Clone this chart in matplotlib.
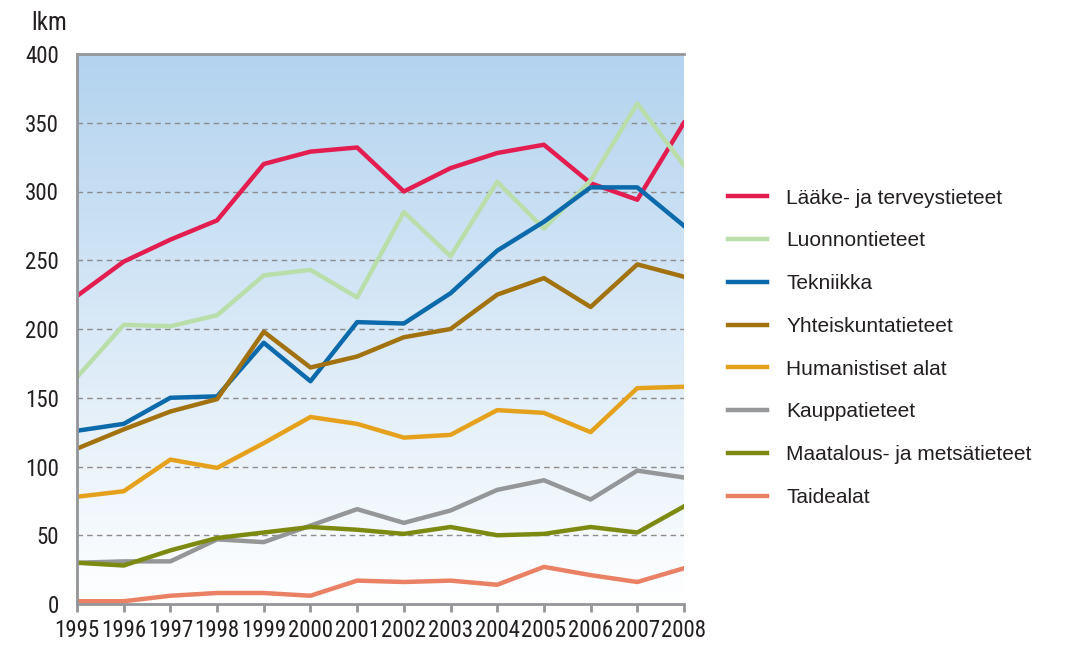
import numpy as np
import matplotlib
matplotlib.use("Agg")
import matplotlib.pyplot as plt
from matplotlib import font_manager
from matplotlib.colors import LinearSegmentedColormap

years = list(range(1995, 2009))

series_names = [
    "Lääke- ja terveystieteet",
    "Luonnontieteet",
    "Tekniikka",
    "Yhteiskuntatieteet",
    "Humanistiset alat",
    "Kauppatieteet",
    "Maatalous- ja metsätieteet",
    "Taidealat",
]

laake = [224, 249, 265, 279, 320, 329, 332, 300, 317, 328, 334, 306, 294, 350]
luonnon = [165, 203, 202, 210, 239, 243, 223, 285, 253, 307, 273, 308, 364, 319]
tekniikka = [126, 131, 150, 151, 190, 162, 205, 204, 226, 257, 278, 303, 303, 275]
yhteiskunta = [113, 127, 140, 149, 198, 172, 180, 194, 200, 225, 237, 216, 247, 238]
humanistiset = [78, 82, 105, 99, 117, 136, 131, 121, 123, 141, 139, 125, 157, 158]
kauppa = [30, 31, 31, 47, 45, 57, 69, 59, 68, 83, 90, 76, 97, 92]
maatalous = [30, 28, 39, 48, 52, 56, 54, 51, 56, 50, 51, 56, 52, 71]
taide = [2, 2, 6, 8, 8, 6, 17, 16, 17, 14, 27, 21, 16, 26]

series_values = [laake, luonnon, tekniikka, yhteiskunta, humanistiset, kauppa, maatalous, taide]
colors = ["#e31d50", "#badeaa", "#0b6aac", "#a2720f", "#e6a11c", "#949698", "#7d8a12", "#ea8064"]

# pick a condensed face if one is installed
installed = {f.name for f in font_manager.fontManager.ttflist}
narrow_family = "DejaVu Sans"
narrow_stretch = "condensed"
for cand in ["Liberation Sans Narrow", "Roboto Condensed", "Open Sans Condensed",
             "Noto Sans Condensed", "DejaVu Sans Condensed"]:
    if cand in installed:
        narrow_family = cand
        break
else:
    for f in font_manager.fontManager.ttflist:
        if f.stretch in ("condensed", "semi-condensed", "extra-condensed") and f.style == "normal":
            narrow_family = f.name
            narrow_stretch = f.stretch
            break

narrow = dict(family=[narrow_family, "DejaVu Sans"], stretch=narrow_stretch)
regular = ["Liberation Sans", "DejaVu Sans"]

fig = plt.figure(figsize=(10.65, 6.54), dpi=100)
ax = fig.add_axes([77 / 1065, 1 - 604 / 654, 607 / 1065, 550 / 654])

# blue-to-white gradient background
cmap = LinearSegmentedColormap.from_list("bg", ["#ffffff", "#b3d3ef"])
grad = np.linspace(0, 1, 256).reshape(-1, 1)
ax.imshow(grad, cmap=cmap, aspect="auto", origin="lower",
          extent=[0, 1, 0, 1], transform=ax.transAxes, zorder=0)

for vals, name, c in zip(series_values, series_names, colors):
    ax.plot(years, vals, color=c, lw=3.2, label=name, zorder=3)

ax.set_xlim(1995, 2008)
ax.set_ylim(0, 400)
ax.set_xticks(years)
ax.set_xticklabels([str(y) for y in years], fontsize=16.5, color="#231f20", **narrow)
ax.set_yticks(range(0, 401, 50))
ax.set_yticklabels([str(v) for v in range(0, 401, 50)], fontsize=16.5, color="#231f20", **narrow)
ax.set_yticks([0, 400], minor=True)

for v in range(50, 400, 50):
    ax.axhline(v, color="#8c8c8c", lw=1, ls=(0, (4, 3)), zorder=1)

for side in ["left", "bottom", "top"]:
    ax.spines[side].set_color("#939598")
    ax.spines[side].set_linewidth(2)
    ax.spines[side].set_zorder(4)
ax.spines["right"].set_visible(False)

ax.tick_params(axis="y", which="major", length=0, pad=13)
ax.tick_params(axis="y", which="minor", length=7, width=2, color="#939598")
ax.tick_params(axis="x", length=6, width=2, color="#939598", pad=5)

fig.text(31 / 1065, 1 - 23 / 654, "lkm", fontsize=18, color="#231f20",
         va="center", ha="left", **narrow)

leg = fig.legend(loc="upper left", bbox_to_anchor=(709 / 1065, 1 - 170 / 654),
                 frameon=False, prop={"family": regular, "size": 15},
                 handlelength=1.9, handletextpad=0.9, labelspacing=1.14)
for t in leg.get_texts():
    t.set_color("#231f20")

fig.savefig("out.png", dpi=100)
